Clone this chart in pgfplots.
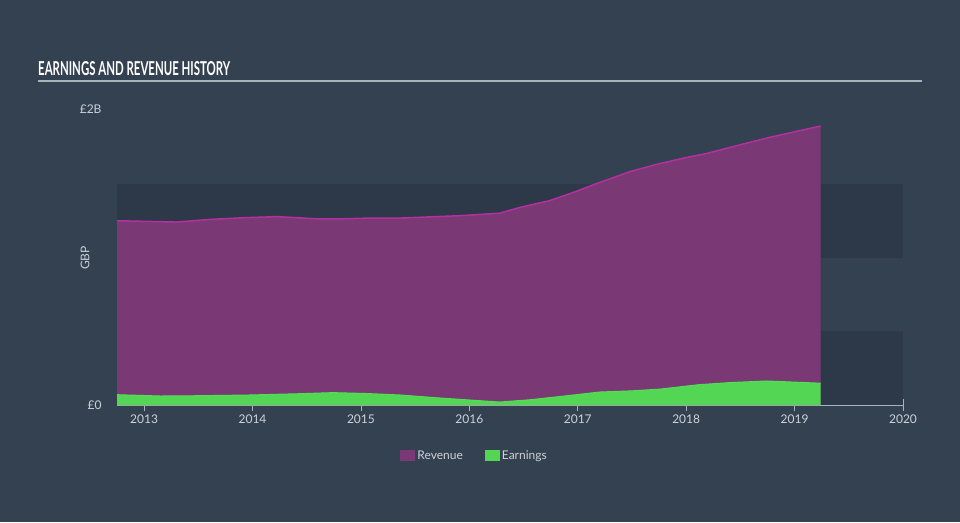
\documentclass[border=0pt]{standalone}
\usepackage{pgfplots}
\pgfplotsset{compat=1.18}
\usepackage{fontspec}
\setmainfont{Lato}
\usepackage{graphicx}

\definecolor{bg}{RGB}{51,65,80}
\definecolor{band}{RGB}{45,57,72}
\definecolor{revfill}{RGB}{122,57,117}
\definecolor{revline}{RGB}{178,48,160}
\definecolor{earnfill}{RGB}{82,214,84}
\definecolor{earnline}{RGB}{78,226,80}
\definecolor{txt}{RGB}{205,210,216}
\definecolor{axisgray}{RGB}{170,178,188}

\pgfplotstableread{
year    rev
2012.75 1.251
2013.05 1.246
2013.30 1.242
2013.61 1.260
2013.91 1.271
2014.23 1.279
2014.59 1.264
2014.83 1.264
2015.08 1.269
2015.36 1.269
2015.91 1.285
2016.28 1.302
2016.47 1.342
2016.74 1.387
2016.97 1.446
2017.14 1.494
2017.48 1.584
2017.73 1.634
2017.97 1.675
2018.19 1.708
2018.49 1.765
2018.80 1.822
2019.24 1.894
}\revdata

\pgfplotstableread{
year    earn
2012.75 0.070
2013.15 0.061
2013.50 0.063
2013.98 0.068
2014.40 0.076
2014.74 0.084
2015.05 0.078
2015.36 0.068
2015.70 0.049
2016.00 0.034
2016.28 0.020
2016.55 0.035
2016.83 0.057
2017.20 0.088
2017.50 0.096
2017.76 0.108
2018.12 0.138
2018.40 0.152
2018.74 0.163
2019.24 0.148
}\earndata

\begin{document}
\begin{tikzpicture}[x=1pt,y=1pt]
\fill[bg] (0,0) rectangle (960,522);
% title and rule
\node[anchor=base west, inner sep=0, text=white] at (38,446)
  {\resizebox{192pt}{14pt}{\bfseries EARNINGS AND REVENUE HISTORY}};
\draw[axisgray, line width=2pt] (38,441) -- (922,441);
\node[rotate=90, text=txt, font=\fontsize{12}{14}\selectfont] at (85,264) {GBP};

\begin{axis}[
  at={(117pt,117pt)}, anchor=south west,
  scale only axis, width=786pt, height=298pt,
  xmin=2012.75, xmax=2020, ymin=0, ymax=2.023,
  axis lines*=left,
  x axis line style={axisgray, line width=1pt},
  y axis line style={draw=none},
  xtick={2013,2014,2015,2016,2017,2018,2019,2020},
  xticklabels={2013,2014,2015,2016,2017,2018,2019,2020},
  ytick={0,2}, yticklabels={£0,\raisebox{3pt}{£2B}},
  tick align=center,
  major tick length=12pt,
  xtick style={axisgray, line width=0.8pt},
  ytick style={draw=none},
  xticklabel style={text=txt, font=\fontsize{12}{14}\selectfont},
  yticklabel style={text=txt, font=\fontsize{12}{14}\selectfont, xshift=-6pt},
  /pgf/number format/assume math mode=true,
  legend style={at={(0.455,-0.171)}, anchor=center, draw=none, fill=none,
    text=txt, font=\fontsize{12}{14}\selectfont, legend columns=2,
    /tikz/every even column/.append style={column sep=20pt}},
]
\fill[band] (axis cs:2012.75,0) rectangle (axis cs:2020,0.5);
\fill[band] (axis cs:2012.75,1) rectangle (axis cs:2020,1.5);

% revenue: area then its top line
\addplot[draw=none, fill=revfill,
  legend image code/.code={\fill[revfill] (0pt,-5pt) rectangle (15pt,6pt);}]
  table[x=year, y=rev] {\revdata} \closedcycle;
\addlegendentry{Revenue}
\addplot[revline, line width=1.5pt, forget plot] table[x=year, y=rev] {\revdata};

% earnings: area then its top line
\addplot[draw=none, fill=earnfill,
  legend image code/.code={\fill[earnfill] (0pt,-5pt) rectangle (15pt,6pt);}]
  table[x=year, y=earn] {\earndata} \closedcycle;
\addlegendentry{Earnings}
\addplot[earnline, line width=1pt, forget plot] table[x=year, y=earn] {\earndata};
\end{axis}
\end{tikzpicture}
\end{document}
